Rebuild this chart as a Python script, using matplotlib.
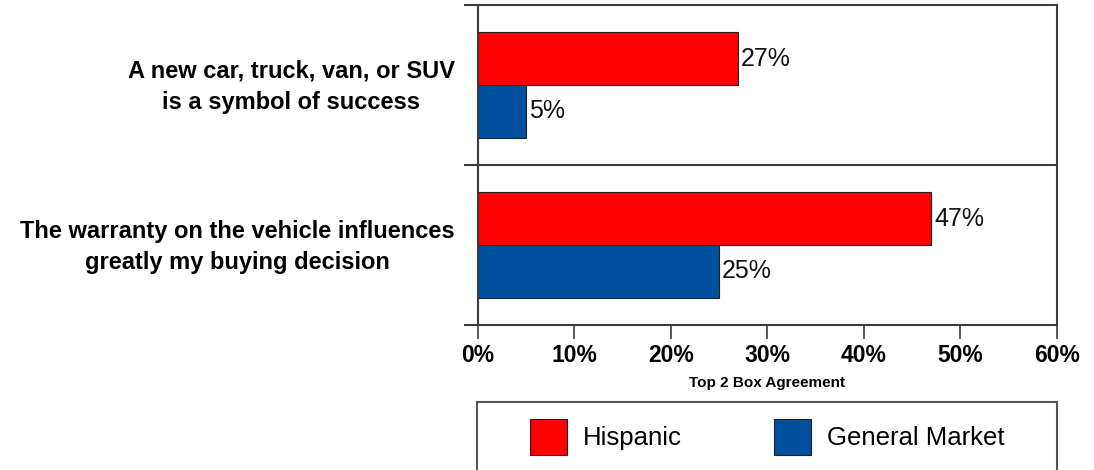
import matplotlib
matplotlib.use("Agg")
import matplotlib.pyplot as plt
import matplotlib.transforms as mtransforms
from matplotlib.patches import Patch, Rectangle
from matplotlib.ticker import FuncFormatter

plt.rcParams['font.family'] = ['Liberation Sans', 'DejaVu Sans']

categories = [
    "A new car, truck, van, or SUV\nis a symbol of success",
    "The warranty on the vehicle influences\ngreatly my buying decision",
]
series_names = ["Hispanic", "General Market"]
hispanic = [27, 47]
general_market = [5, 25]
x_ticks = [0, 10, 20, 30, 40, 50, 60]
x_title = "Top 2 Box Agreement"

colors = ["#FE0000", "#0050A0"]
spine_color = "#3c3c3c"

W, H = 1094, 470
fig = plt.figure(figsize=(W / 100, H / 100), dpi=100)
ax = fig.add_axes([477.7 / W, 1 - 325 / H, (1056.7 - 477.7) / W, (325 - 5) / H])

bar_h = 0.33
centers = [i + 0.5 for i in range(len(categories))]
for k, (vals, col) in enumerate(zip([hispanic, general_market], colors)):
    offset = (-0.5 + k) * bar_h
    ys = [c + offset for c in centers]
    ax.barh(ys, vals, height=bar_h, color=col, edgecolor="#222222", linewidth=0.8,
            label=series_names[k])
    for y, v in zip(ys, vals):
        ax.text(v + 0.3, y, f"{v}%", va="center", ha="left", fontsize=18, color="#111111")

ax.set_xlim(0, 60)
ax.set_ylim(len(categories), 0)

ax.set_xticks(x_ticks)
ax.xaxis.set_major_formatter(FuncFormatter(lambda v, p: f"{v:.0f}%"))
ax.tick_params(axis="x", length=10, width=1.2, color=spine_color, pad=4,
               labelsize=16.5)
for lbl in ax.get_xticklabels():
    lbl.set_fontweight("bold")

# category labels, centred lines, right edge just left of the axis
ax.set_yticks([])
label_tf = (mtransforms.blended_transform_factory(ax.transAxes, ax.transData)
            + mtransforms.ScaledTranslation(-23 / 100, -2 / 100, fig.dpi_scale_trans))
for c, name in zip(centers, categories):
    ax.text(0, c, name, transform=label_tf, ha="right", va="center",
            multialignment="center", linespacing=1.45,
            fontsize=17, fontweight="bold", clip_on=False)

ax.set_yticks(range(len(categories) + 1), minor=True)
ax.tick_params(axis="y", which="minor", length=10, width=1.5, color=spine_color,
               labelleft=False)
ax.grid(False)

# category separator
for b in range(1, len(categories)):
    ax.axhline(b, color=spine_color, linewidth=1.5)

for s in ax.spines.values():
    s.set_color(spine_color)
    s.set_linewidth(1.5)

fig.text((477.7 + 1056.7) / 2 / W, 1 - 383 / H, x_title, ha="center", va="center",
         fontsize=11, fontweight="bold",
         family=["Liberation Sans Narrow", "Liberation Sans", "DejaVu Sans"])

# legend frame, running off the bottom edge
fig.patches.append(Rectangle((477 / W, -0.2), (1057 - 477) / W, 0.2 + 1 - 402 / H,
                             transform=fig.transFigure, fill=False,
                             edgecolor="#555555", linewidth=1.5))
handles = [Patch(facecolor=c, edgecolor="#222222", linewidth=0.8) for c in colors]
fig.legend(handles, series_names, ncol=2, loc="center left",
           bbox_to_anchor=(530 / W, 1 - 437 / H), frameon=False, fontsize=18.5,
           handlelength=1.44, handleheight=1.75, handletextpad=0.62,
           columnspacing=3.6, borderpad=0, borderaxespad=0)

fig.savefig("out.png", dpi=100)
